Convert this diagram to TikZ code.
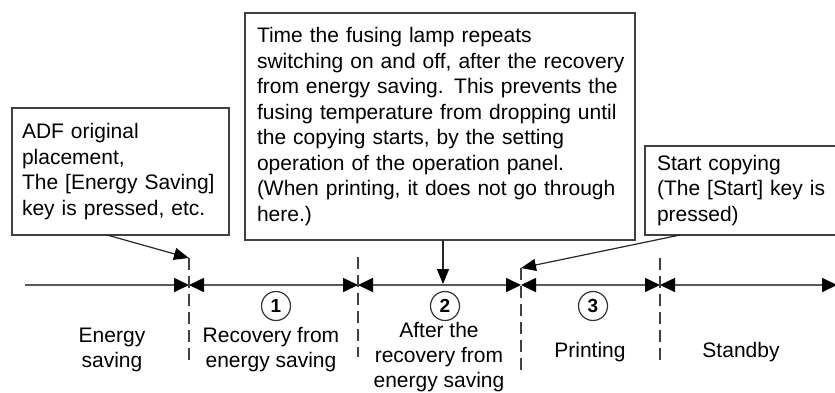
\documentclass[tikz,border=0pt]{standalone}
\usepackage{fontspec}
\setmainfont{Liberation Sans}
\usetikzlibrary{arrows.meta,calc}
\begin{document}
\begin{tikzpicture}[x=1pt,y=-1pt,
  >={Triangle[length=15pt,width=14pt,color=black]},
  box/.style={draw=black!75, line width=1.2pt, outer sep=0pt, inner xsep=12pt, inner ysep=0pt,
    align=left, anchor=north west, font=\fontsize{21}{25.5}\selectfont},
  lbl/.style={align=center, inner sep=0pt, font=\fontsize{21}{25}\selectfont},
  num/.style={circle, draw=black!80, line width=1.2pt, minimum size=29pt, inner sep=0pt,
    font=\fontsize{19}{19}\selectfont\bfseries},
  tl/.style={draw=black!65, line width=1.7pt},
  divider/.style={draw=black!75, line width=1.3pt, dash pattern=on 12pt off 6pt},
  pointer/.style={draw=black!85, line width=1.2pt, -{Triangle[length=15pt,width=12pt,color=black]}}
]
\useasboundingbox (0,0) rectangle (835,392);

% boxes
\node[box, inner xsep=10pt, text width=197pt, minimum height=127pt] (adf) at (12,108)
  {ADF original\\placement,\\The [Energy Saving]\\key is pressed, etc.};
\node[box, text width=366pt, minimum height=227pt] (main) at (245,13)
  {\mbox{Time the fusing lamp repeats}\\\mbox{switching on and off, after the recovery}\\\mbox{from energy saving. This prevents the}\\\mbox{fusing temperature from dropping until}\\\mbox{the copying starts, by the setting}\\\mbox{operation of the operation panel.}\\\mbox{(When printing, it does not go through}\\\mbox{here.)}};
\node[box, text width=169pt, minimum height=89pt] (start) at (645,146)
  {Start copying\\(The [Start] key is\\pressed)};

% timeline
\coordinate (d0) at (25,285);
\coordinate (d1) at (189,285);
\coordinate (d2) at (358,285);
\coordinate (d3) at (521,285);
\coordinate (d4) at (660,285);
\coordinate (d5) at (837,285);
\draw[tl,->] (d0) -- (d1);
\draw[tl,<->] (d1) -- (d2);
\draw[tl,<->] (d2) -- (d3);
\draw[tl,<->] (d3) -- (d4);
\draw[tl,<->] (d4) -- (d5);

% dividers
\coordinate (t1) at (189,258); \coordinate (b1) at (189,360);
\coordinate (t2) at (358,257); \coordinate (b2) at (358,357);
\coordinate (t3) at (521,268); \coordinate (b3) at (521,370);
\coordinate (t4) at (660,258); \coordinate (b4) at (660,360);
\draw[divider] (t1) -- (b1);
\draw[divider] (t2) -- (b2);
\draw[divider] (t3) -- (b3);
\draw[divider] (t4) -- (b4);

% pointers
\coordinate (m) at (443,284);
\draw[pointer] ($(adf.south west)+(95,0)$) -- (t1);
\draw[pointer] ($(main.south west)+(198,0)$) -- (m);
\draw[pointer] ($(start.south west)+(35,0)$) -- (t3);

% numbers
\node[num] (n1) at (276,306) {1};
\node[num] (n2) at (445,306) {2};
\node[num] (n3) at (593,306) {3};

% labels
\node[lbl] (l0) at (112,350) {Energy\\saving};
\node[lbl] (l1) at (271,350) {Recovery from\\energy saving};
\node[lbl] (l2) at (439,357.5) {After the\\recovery from\\energy saving};
\node[lbl, anchor=base] (l3) at (590,357) {Printing};
\node[lbl, anchor=base] (l4) at (741,357) {Standby};
\end{tikzpicture}
\end{document}
